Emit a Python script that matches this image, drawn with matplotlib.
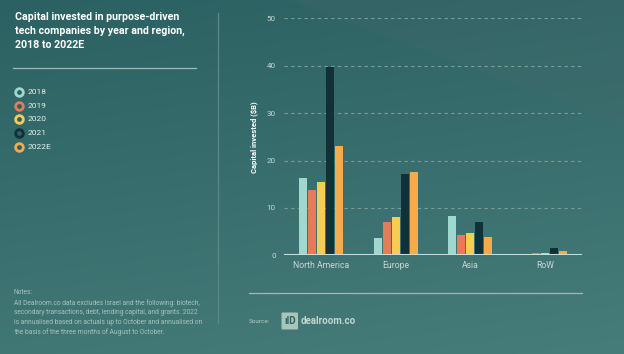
import matplotlib
matplotlib.use("Agg")
import matplotlib.pyplot as plt
import numpy as np
from matplotlib.patches import Polygon, FancyBboxPatch

regions = ["North America", "Europe", "Asia", "RoW"]
years = ["2018", "2019", "2020", "2021", "2022E"]
v2018 = [16.3, 3.7, 8.3, 0.3]
v2019 = [13.8, 7.0, 4.3, 0.5]
v2020 = [15.5, 8.1, 4.7, 0.5]
v2021 = [39.8, 17.2, 7.0, 1.6]
v2022 = [23.1, 17.6, 3.9, 0.9]
series = [v2018, v2019, v2020, v2021, v2022]
colors = ["#9fd8cf", "#e67b59", "#f5cd55", "#11303a", "#f7aa4a"]
yticks = [0, 10, 20, 30, 40, 50]

title = "Capital invested in purpose-driven\ntech companies by year and region,\n2018 to 2022E"
notes = ("Notes:\nAll Dealroom.co data excludes Israel and the following: biotech,\n"
         "secondary transactions, debt, lending capital, and grants. 2022\n"
         "is annualised based on actuals up to October and annualised on\n"
         "the basis of the three months of August to October.")

W, H = 624, 354
fig = plt.figure(figsize=(W / 100, H / 100), dpi=100)

def fx(x):
    return x / W

def fy(y):
    return 1 - y / H

# background gradient
bg = fig.add_axes([0, 0, 1, 1], zorder=-10)
bg.set_xlim(0, W)
bg.set_ylim(H, 0)
bg.axis("off")
yy, xx = np.mgrid[0:H, 0:W]
t = (yy / H) * 0.8 + (xx / W) * 0.2
c0 = np.array([0x2c, 0x61, 0x63]) / 255
c1 = np.array([0x46, 0x7c, 0x79]) / 255
img = c0[None, None, :] * (1 - t[..., None]) + c1[None, None, :] * t[..., None]
bg.imshow(img, extent=(0, W, H, 0), aspect="auto", interpolation="bilinear")
bg.add_patch(Polygon([(290, 0), (W, 0), (W, 125)], closed=True,
                     facecolor="#50696a", alpha=0.18, edgecolor="none"))

# left panel
fig.text(fx(15), fy(12), title, color="white", fontsize=7.7, fontweight="bold",
         family="Roboto", va="top", ha="left", linespacing=1.45)
bg.plot([13, 196], [68, 68], color="#9fbbb5", lw=0.9)
bg.plot([217.5, 217.5], [13, 323], color="#5d8885", lw=0.9)

leg_y = [92, 106, 119, 133, 147]
for yv, lab, col in zip(leg_y, years, colors):
    bg.plot([19], [yv], marker="o", ms=5.5, mfc="#2f5f60", mec=col, mew=2.0)
    bg.text(28, yv, lab, color="#e8f0ee", fontsize=6, family="Roboto",
            va="center", ha="left")

fig.text(fx(14), fy(289), notes, color="#a8c4bf", fontsize=4.75, family="Roboto",
         va="top", ha="left", linespacing=1.5)

# bottom source
bg.plot([249, 582], [293.3, 293.3], color="#9fbbb5", lw=0.9)
bg.text(249, 321.7, "Source:", color="#b6cdc7", fontsize=4.6, family="Roboto",
        va="center", ha="left")
bg.add_patch(FancyBboxPatch((281.5, 312.5), 16.5, 17, boxstyle="round,pad=0,rounding_size=1",
                            facecolor="#a9c4b9", edgecolor="none"))
bg.text(289.7, 321.5, "\u0131lD", color="#2f6666", fontsize=7, fontweight="bold",
        family="Roboto", va="center", ha="center")
bg.text(301, 321.5, "dealroom.co", color="#c3d6cf", fontsize=7.0, fontweight="bold",
        family="Roboto", va="center", ha="left")

# chart
ax = fig.add_axes([fx(284), fy(255.3), fx(582) - fx(284), fy(18.3) - fy(255.3)])
ax.patch.set_alpha(0)
x = np.arange(len(regions))
bw = 0.107
step = 0.121
for i, (vals, col) in enumerate(zip(series, colors)):
    ax.bar(x + (i - 2) * step, vals, width=bw, color=col, zorder=3)
ax.set_xlim(-0.5, 3.5)
ax.set_ylim(0, 50)
ax.set_yticks(yticks)
ax.set_xticks(x)
ax.set_xticklabels(regions)
for s in ax.spines.values():
    s.set_visible(False)
ax.tick_params(length=0, colors="#c9d8d4", labelsize=5.8, pad=6)
ax.tick_params(axis="x", labelsize=6.2, pad=4)
for lab in ax.get_xticklabels() + ax.get_yticklabels():
    lab.set_family("Roboto")
for yv in yticks[1:]:
    ax.axhline(yv, color="#7a9d99", lw=0.8, ls=(0, (3, 3)), zorder=1)
ax.axhline(0, color="#c9dcd8", lw=1.5, zorder=4)
ax.set_ylabel("Capital invested ($B)", color="white", fontsize=5.5, fontweight="bold",
              family="Roboto", labelpad=6)

fig.savefig("out.png", dpi=100)
